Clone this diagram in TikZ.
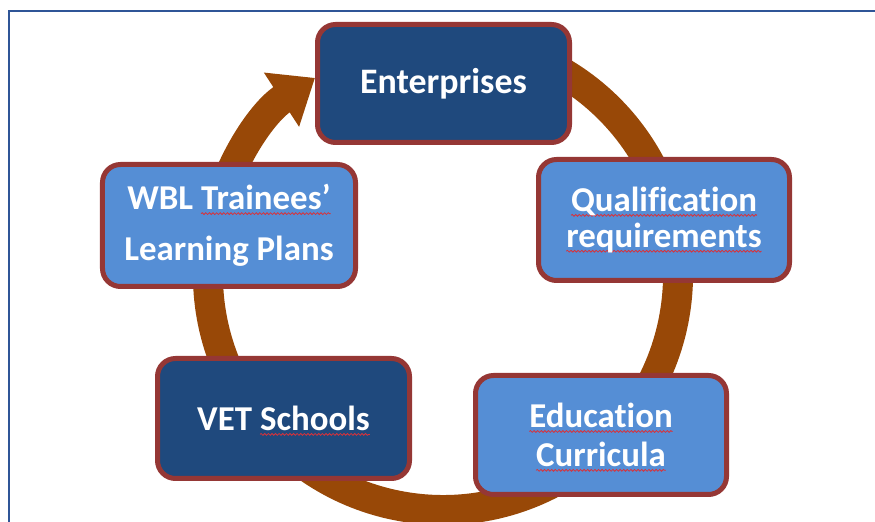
\documentclass[tikz,border=0pt]{standalone}
\usepackage{fontspec}
\setmainfont{Carlito}[Ligatures=NoCommon]
\usetikzlibrary{arrows.meta,decorations.pathmorphing}
\definecolor{navy}{HTML}{1F497D}
\definecolor{lblue}{HTML}{558ED5}
\definecolor{bord}{HTML}{953735}
\definecolor{ringc}{HTML}{984807}
\definecolor{framec}{HTML}{2F5597}
\definecolor{wavec}{HTML}{D8323A}
\newcommand\spellwave[1]{\setbox0\hbox{#1}\rlap{\tikz[overlay,x=1bp,y=1bp,sharp corners]\draw[wavec, line width=0.8bp, sharp corners, decorate, decoration={snake, amplitude=0.9bp, segment length=3.6bp}] (0,-3.8) -- (\the\wd0,-3.8);}\box0}
\begin{document}
\begin{tikzpicture}[x=1bp,y=1bp,
  box/.style={draw=bord, line width=5bp, rounded corners=18bp, inner sep=0pt,
    text=white, align=center, font=\bfseries\fontsize{35}{39}\selectfont},
  darkbox/.style={box, fill=navy},
  lightbox/.style={box, fill=lblue}]
\useasboundingbox (0,0) rectangle (875,522);
\draw[framec, line width=1.5bp] (9,0) -- (9,511) -- (875,511);
\coordinate (c) at (443,247);
\draw[ringc, line width=30bp, -{Triangle[length=40bp,width=62bp]}]
  ([shift={(80:235)}]c) arc[start angle=80, end angle=-237, radius=235];
\node[darkbox, minimum width=252bp, minimum height=118bp, font=\bfseries\fontsize{36}{39}\selectfont] (ent) at (443.5,438.5) {Enterprises};
\node[lightbox, minimum width=251bp, minimum height=121bp, font=\bfseries\fontsize{35}{36}\selectfont] (qual) at (664,302) {\spellwave{Qualification}\\\spellwave{requirements}};
\node[lightbox, minimum width=251bp, minimum height=119bp] (edu) at (601,87) {\spellwave{Education}\\\spellwave{Curricula}};
\node[darkbox, minimum width=252bp, minimum height=120bp] (vet) at (283.5,103.5) {VET \spellwave{Schools}};
\node[lightbox, minimum width=253bp, minimum height=122bp, font=\bfseries\fontsize{35}{51}\selectfont] (wbl) at (229,296.5) {WBL \spellwave{Trainees’}\\Learning Plans};
\end{tikzpicture}
\end{document}
